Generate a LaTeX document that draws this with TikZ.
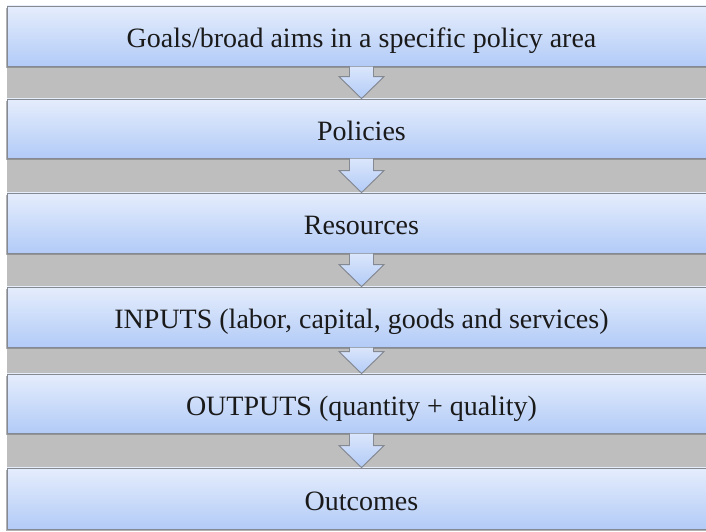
\documentclass[tikz,border=0pt]{standalone}
\usepackage{fontspec}
\setmainfont{Liberation Serif}
\usetikzlibrary{calc,shadows}
\definecolor{boxtop}{HTML}{E5EDFC}
\definecolor{boxbot}{HTML}{B2CBF7}
\definecolor{band}{HTML}{BEBEBE}
\definecolor{edge}{HTML}{858992}
\definecolor{txt}{HTML}{1A1A1A}
\begin{document}
\begin{tikzpicture}[x=1pt,y=1pt,
  stage/.style={rectangle, inner sep=0pt, minimum width=709pt,
    top color=boxtop, bottom color=boxbot, draw=edge, line width=0.8pt,
    text=txt, font=\fontsize{28}{31}\selectfont,
    text height=23.5pt, text depth=0pt,
    drop shadow={shadow xshift=-1pt, shadow yshift=-2.5pt, opacity=0.55, fill=black!55}},
  flow/.style={top color=boxtop!80!boxbot, bottom color=boxbot},
  flowedge/.style={draw=edge, line width=0.9pt, line join=miter}]
\useasboundingbox (0,0) rectangle (706,532);
\clip (0,0) rectangle (706,532);
\fill[band] (7,34) rectangle (716,496);
\node[stage, minimum height=60pt] (b1) at (361.5,496) {Goals/broad aims in a specific policy area};
\node[stage, minimum height=59pt] (b2) at (361.5,403.5) {Policies};
\node[stage, minimum height=60pt] (b3) at (361.5,309) {Resources};
\node[stage, minimum height=60pt] (b4) at (361.5,215) {INPUTS (labor, capital, goods and services)};
\node[stage, minimum height=59pt] (b5) at (361.5,128.5) {OUTPUTS (quantity + quality)};
\node[stage, minimum height=61pt] (b6) at (361.5,33.5) {Outcomes};
\foreach \i/\j in {1/2,2/3,3/4,4/5,5/6}{
  \fill[flow] let \p1=(b\i.south), \p2=(b\j.north) in
    (\x1-12pt,\y1) -- (\x1-12pt,\y2+22pt) -- (\x1-22.5pt,\y2+22pt) -- (\x1,\y2)
    -- (\x1+22.5pt,\y2+22pt) -- (\x1+12pt,\y2+22pt) -- (\x1+12pt,\y1) -- cycle;
  \draw[flowedge] let \p1=(b\i.south), \p2=(b\j.north) in
    (\x1-12pt,\y1) -- (\x1-12pt,\y2+22pt) -- (\x1-22.5pt,\y2+22pt) -- (\x1,\y2)
    -- (\x1+22.5pt,\y2+22pt) -- (\x1+12pt,\y2+22pt) -- (\x1+12pt,\y1);
}
\end{tikzpicture}
\end{document}
